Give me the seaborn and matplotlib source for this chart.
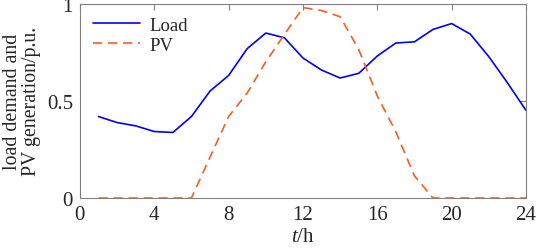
import numpy as np
import pandas as pd
import matplotlib
matplotlib.use("Agg")
import matplotlib.pyplot as plt
import seaborn as sns

hours = list(range(1, 25))
load = [0.419, 0.388, 0.371, 0.342, 0.337, 0.419, 0.55, 0.63, 0.768, 0.848,
        0.824, 0.72, 0.658, 0.617, 0.641, 0.73, 0.797, 0.803, 0.867, 0.897,
        0.843, 0.727, 0.593, 0.451]
pv = [0, 0, 0, 0, 0, 0, 0.21, 0.419, 0.54, 0.70,
      0.84, 0.979, 0.964, 0.932, 0.764, 0.525, 0.34, 0.114, 0, 0,
      0, 0, 0, 0]
series_names = ["Load", "PV"]
x_ticks = [0, 4, 8, 12, 16, 20, 24]
y_ticks = [0, 0.5, 1]
y_tick_labels = ["0", "0.5", "1"]

df = pd.DataFrame({
    "t": hours * 2,
    "value": load + pv,
    "series": [series_names[0]] * len(hours) + [series_names[1]] * len(hours),
})

sns.set_theme(style="white")
plt.rcParams["font.family"] = ["Liberation Serif", "DejaVu Serif"]
plt.rcParams["mathtext.fontset"] = "custom"
plt.rcParams["mathtext.rm"] = "Liberation Serif"
plt.rcParams["mathtext.it"] = "Liberation Serif:italic"

fig = plt.figure(figsize=(5.4, 2.51), dpi=100)
ax = fig.add_axes([0.148, 0.207, 0.826, 0.775])

sns.lineplot(data=df, x="t", y="value", hue="series", style="series",
             palette={"Load": "#0000FF", "PV": "#FF5A1E"},
             dashes={"Load": "", "PV": (5.5, 3.5)},
             linewidth=1.2, ax=ax, legend=True)

ax.set_xlim(0, 24)
ax.set_ylim(0, 1)
ax.set_xticks(x_ticks)
ax.set_xticklabels([str(v) for v in x_ticks])
ax.set_yticks(y_ticks)
ax.set_yticklabels(y_tick_labels)
ax.tick_params(direction="in", length=4, width=0.8, color="#808080",
               labelsize=15, top=True, right=True, pad=5)
for s in ax.spines.values():
    s.set_color("#808080")
    s.set_linewidth(0.8)

ax.set_xlabel(r"$t$/h", fontsize=15, labelpad=2)
ax.set_ylabel("load demand and\nPV generation/p.u.", fontsize=14.3,
              linespacing=1.0, labelpad=4)

leg = ax.legend(loc="upper left", frameon=False, fontsize=13.5,
                handlelength=2.5, handletextpad=0.5, labelspacing=0.15,
                borderaxespad=0.3)

fig.savefig("out.png", dpi=100)
